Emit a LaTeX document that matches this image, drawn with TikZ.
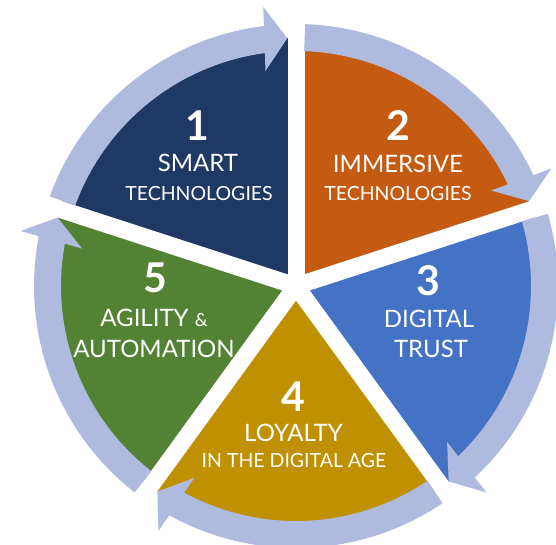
\documentclass[tikz,border=0pt]{standalone}
\usepackage{fontspec}
\setmainfont{Lato}
\usetikzlibrary{calc}
\definecolor{ringc}{RGB}{174,187,223}
\definecolor{sone}{RGB}{32,56,100}
\definecolor{stwo}{RGB}{197,90,17}
\definecolor{sthree}{RGB}{68,114,196}
\definecolor{sfour}{RGB}{191,144,0}
\definecolor{sfive}{RGB}{84,130,53}
\begin{document}
\begin{tikzpicture}[x=1pt,y=1pt,
  numtxt/.style={text=white, font=\fontsize{41}{41}\selectfont\bfseries, inner sep=0pt, anchor=center},
  bigtxt/.style={text=white, font=\fontsize{24}{24}\selectfont, inner sep=0pt, anchor=center},
  smalltxt/.style={text=white, font=\fontsize{19.5}{19.5}\selectfont, inner sep=0pt, anchor=center},
  ringarrow/.style={fill=ringc, draw=none},
  gapline/.style={draw=white, line width=17pt}]
\useasboundingbox (0,0) rectangle (556,544);
\coordinate (C) at (296,258);
% sectors
\fill[sone]   (C) -- ++(90:248pt)   arc[start angle=90,   end angle=162,  radius=248pt] -- cycle;
\fill[stwo]   (C) -- ++(18:248pt)   arc[start angle=18,   end angle=90,   radius=248pt] -- cycle;
\fill[sthree] (C) -- ++(-54:248pt)  arc[start angle=-54,  end angle=18,   radius=248pt] -- cycle;
\fill[sfour]  (C) -- ++(-126:248pt) arc[start angle=-126, end angle=-54,  radius=248pt] -- cycle;
\fill[sfive]  (C) -- ++(162:248pt)  arc[start angle=162,  end angle=234,  radius=248pt] -- cycle;
% white gaps
\foreach \a in {90,18,-54,-126,162} \draw[gapline] (C) -- ++(\a:252pt);
% ring arrows
\foreach \t in {92,20,-52,-124,164} {
  \begin{scope}[shift={(C)}, rotate=\t]
    \fill[ringarrow] (68:262pt) arc[start angle=68, end angle=5.04, radius=262pt]
      -- (280,23) -- (248,0) -- (216,23) -- (5.62:235pt)
      arc[start angle=5.62, end angle=68, radius=235pt] -- cycle;
  \end{scope}
}
% texts
\node[numtxt]   (n1)  at (197,418) {1};
\node[bigtxt]   (t1a) at (198,381) {SMART};
\node[smalltxt] (t1b) at (199,350.5) {TECHNOLOGIES};
\node[numtxt]   (n2)  at (398,418) {2};
\node[bigtxt]   (t2a) at (398,380) {IMMERSIVE};
\node[smalltxt] (t2b) at (398,350.5) {TECHNOLOGIES};
\node[numtxt]   (n3)  at (428,263) {3};
\node[bigtxt]   (t3a) at (429,225) {DIGITAL};
\node[bigtxt]   (t3b) at (431,195) {TRUST};
\node[numtxt]   (n4)  at (293,147) {4};
\node[bigtxt]   (t4a) at (293.5,111) {LOYALTY};
\node[smalltxt] (t4b) at (294,83) {IN THE DIGITAL AGE};
\node[numtxt]   (n5)  at (155,266) {5};
\node[bigtxt]   (t5a) at (154,226) {AGILITY {\fontsize{18}{18}\selectfont\&}};
\node[bigtxt]   (t5b) at (154,195) {AUTOMATION};
\end{tikzpicture}
\end{document}
